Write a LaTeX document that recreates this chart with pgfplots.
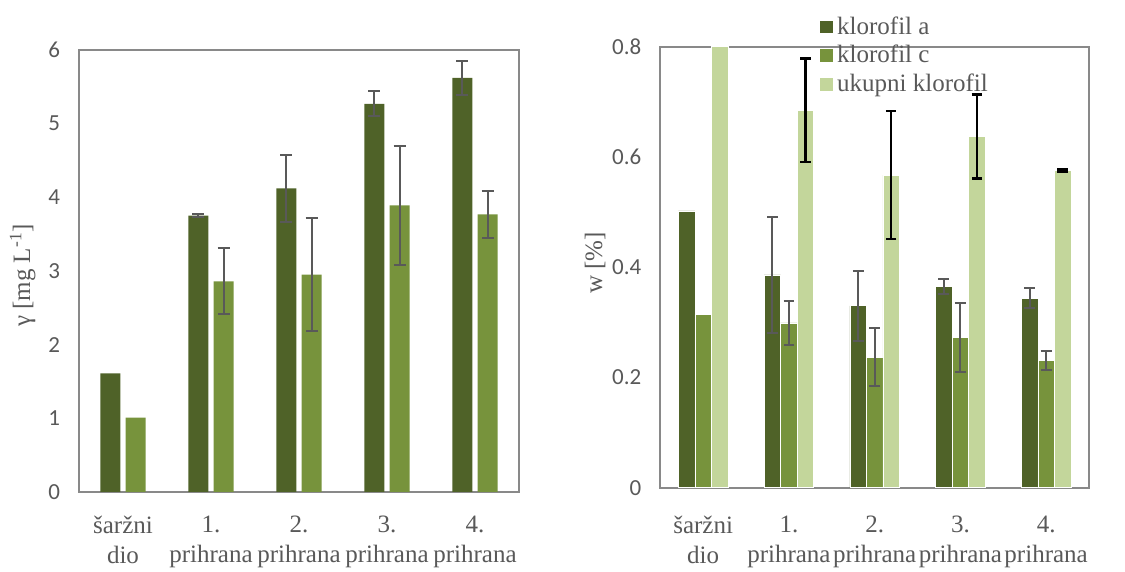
\documentclass[border=0pt]{standalone}
\usepackage{pgfplots}
\pgfplotsset{compat=1.18}
\usepackage{fontspec}
\setmainfont{Liberation Serif}
\newfontfamily\calibri{Carlito}
\definecolor{cA}{RGB}{79,98,40}
\definecolor{cC}{RGB}{119,147,60}
\definecolor{cT}{RGB}{195,214,155}
\definecolor{txt}{RGB}{89,89,89}
\definecolor{frame}{RGB}{137,137,137}
\definecolor{errc}{RGB}{89,89,89}
\pgfplotsset{
  common/.style={
    scale only axis,
    anchor=south west,
    xmin=-0.5, xmax=4.5, ymin=0,
    xtick={0,1,2,3,4},
    xticklabels={{šaržni\\dio},{1.\\prihrana},{2.\\prihrana},{3.\\prihrana},{4.\\prihrana}},
    xticklabel style={align=center, font=\rmfamily\fontsize{12.5}{15}\selectfont, text=txt},
    yticklabel style={font=\calibri\fontsize{11.5}{13}\selectfont, text=txt, xshift=-6pt},
    /pgf/number format/assume math mode=true,
    major tick length=0pt,
    axis line style={frame, line width=1pt},
    ylabel style={font=\rmfamily\fontsize{12.5}{15}\selectfont, text=txt, anchor=center},
    error bars/y dir=both, error bars/y explicit,
  },
}
\begin{document}
\begin{tikzpicture}
\path[use as bounding box] (0,0) rectangle (562.5pt,286pt);
% left panel
\begin{axis}[common,
  at={(39.5pt,40pt)}, width=220pt, height=221pt,
  ymax=6, ytick={0,1,2,3,4,5,6},
  xticklabel style={yshift=-8.5pt},
  ybar=2.7pt, bar width=10pt,
  ylabel={γ [mg L\textsuperscript{-1}]},
  ylabel style={at={(axis description cs:-0.128,0.49)}},
]
\addplot[fill=cA, draw=none,
  error bars/error bar style={errc, line width=1pt},
  error bars/error mark options={errc, line width=1pt, mark size=3pt, rotate=90}]
  coordinates {(0,1.61) (1,3.75) +- (0,0.02) (2,4.12) +- (0,0.45) (3,5.27) +- (0,0.17) (4,5.62) +- (0,0.23)};
\addplot[fill=cC, draw=none,
  error bars/error bar style={errc, line width=1pt},
  error bars/error mark options={errc, line width=1pt, mark size=3pt, rotate=90}]
  coordinates {(0,1.01) (1,2.86) +- (0,0.45) (2,2.95) +- (0,0.77) (3,3.89) +- (0,0.81) (4,3.77) +- (0,0.32)};
\end{axis}
% right panel
\begin{axis}[common,
  at={(330.15pt,42.15pt)}, width=214.35pt, height=220.5pt,
  ymax=0.8, ytick={0,0.2,0.4,0.6,0.8},
  xticklabel style={yshift=-10.5pt},
  yticklabel style={/pgf/number format/.cd, fixed, precision=1},
  ybar=0pt, bar width=8.25pt,
  ylabel={w [\%]},
  ylabel style={at={(axis description cs:-0.152,0.51)}},
  legend style={at={(axis description cs:0.3725,1.078)}, anchor=north west,
    draw=none, fill=none, font=\rmfamily\fontsize{12.5}{13.5}\selectfont, text=txt,
    inner sep=0pt, row sep=0pt},
  legend cell align=left,
  legend image code/.code={\fill[#1, draw=none] (0pt,-3.2pt) rectangle (6.4pt,3.2pt);},
]
\addplot[fill=cA, draw=white, line width=0.3pt,
  error bars/error bar style={errc, line width=1pt},
  error bars/error mark options={errc, line width=1pt, mark size=2.7pt, rotate=90}]
  coordinates {(0,0.502) (1,0.386) +- (0,0.105) (2,0.330) +- (0,0.064) (3,0.365) +- (0,0.014) (4,0.344) +- (0,0.018)};
\addplot[fill=cC, draw=white, line width=0.3pt,
  error bars/error bar style={errc, line width=1pt},
  error bars/error mark options={errc, line width=1pt, mark size=2.7pt, rotate=90}]
  coordinates {(0,0.315) (1,0.299) +- (0,0.040) (2,0.237) +- (0,0.053) (3,0.272) +- (0,0.063) (4,0.231) +- (0,0.017)};
\addplot[fill=cT, draw=white, line width=0.3pt,
  error bars/error bar style={black, line width=1.3pt},
  error bars/error mark options={black, line width=1.3pt, mark size=2.6pt, rotate=90}]
  coordinates {(0,0.80) (1,0.685) +- (0,0.094) (2,0.567) +- (0,0.116) (3,0.637) +- (0,0.076) (4,0.576) +- (0,0.002)};
\legend{klorofil a, klorofil c, ukupni klorofil}
\end{axis}
\end{tikzpicture}
\end{document}
